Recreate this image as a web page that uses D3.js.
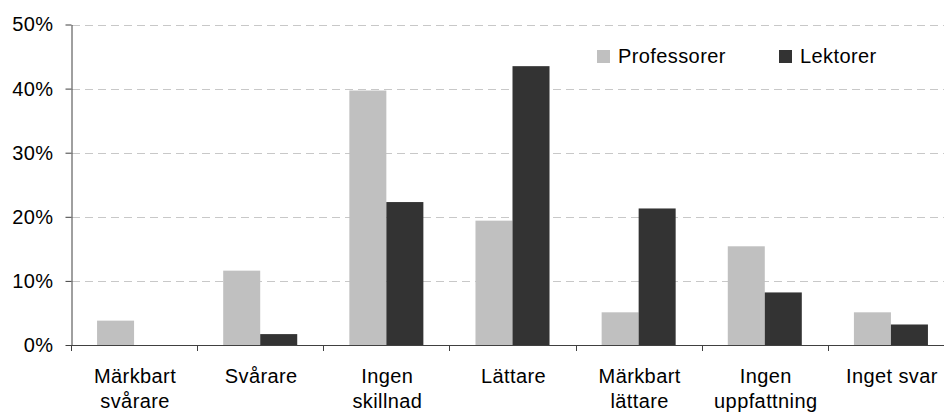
<!DOCTYPE html>
<html>
<head>
<meta charset="utf-8">
<script src="https://cdn.jsdelivr.net/npm/d3@7/dist/d3.min.js"></script>
<style>
  html, body { margin: 0; padding: 0; background: #fff; }
  svg { display: block; font-family: "Liberation Sans", Arial, sans-serif; }
  text { letter-spacing: 0.4px; }
</style>
</head>
<body>
<svg id="chart" width="944" height="416"></svg>
<script>
// Response categories (line breaks mark wrapped labels)
const categories = ["Märkbart\nsvårare", "Svårare", "Ingen\nskillnad", "Lättare", "Märkbart\nlättare", "Ingen\nuppfattning", "Inget svar"];
const seriesNames = ["Professorer", "Lektorer"];
const professorer = [0.038, 0.116, 0.397, 0.194, 0.051, 0.154, 0.051];
const lektorer    = [0.000, 0.017, 0.223, 0.435, 0.213, 0.082, 0.032];
const yTicks = [0, 0.1, 0.2, 0.3, 0.4, 0.5];
const colors = ["#c0c0c0", "#333333"];

const svg = d3.select("#chart");
const plot = { left: 71, right: 954, top: 24.5, bottom: 345 };

const x = d3.scaleBand().domain(categories).range([plot.left, plot.right]).padding(0);
const xs = d3.scaleBand().domain(seriesNames).range([0, x.bandwidth()]).paddingInner(0).paddingOuter(0.704);
const y = d3.scaleLinear().domain([0, 0.5]).range([plot.bottom, plot.top]);

const values = { "Professorer": professorer, "Lektorer": lektorer };

// dashed gridlines
svg.append("g")
  .selectAll("line")
  .data(yTicks.filter(d => d > 0))
  .join("line")
  .attr("x1", plot.left + 1).attr("x2", 944)
  .attr("y1", d => Math.round(y(d)) + 0.5).attr("y2", d => Math.round(y(d)) + 0.5)
  .attr("stroke", "#c8c8c8").attr("stroke-width", 1)
  .attr("stroke-dasharray", "8,5");

// bars
const groups = svg.append("g").selectAll("g")
  .data(categories)
  .join("g")
  .attr("transform", c => `translate(${x(c)},0)`);

groups.selectAll("rect")
  .data((c, i) => seriesNames.map((s, k) => ({ s, k, v: values[s][i] })))
  .join("rect")
  .attr("x", d => xs(d.s))
  .attr("width", xs.bandwidth())
  .attr("y", d => y(d.v))
  .attr("height", d => y(0) - y(d.v))
  .attr("fill", d => colors[d.k]);

// y axis
const yAxis = d3.axisLeft(y)
  .tickValues(yTicks)
  .tickFormat(d3.format(".0%"))
  .tickSize(6)
  .tickSizeOuter(0)
  .tickPadding(12);
const gy = svg.append("g").attr("transform", `translate(${plot.left + 0.5},0)`).call(yAxis);
gy.selectAll("path, line").attr("stroke", "#404040");
gy.selectAll("text").attr("font-size", 20).attr("fill", "#000")
  .attr("font-family", "'Liberation Sans', Arial, sans-serif");

// x axis line and category boundary ticks
const gx = svg.append("g");
gx.append("line")
  .attr("x1", plot.left).attr("x2", 944)
  .attr("y1", Math.round(y(0)) + 0.5).attr("y2", Math.round(y(0)) + 0.5)
  .attr("stroke", "#404040");
gx.selectAll("line.tick")
  .data(categories)
  .join("line")
  .attr("class", "tick")
  .attr("x1", c => Math.round(x(c)) + 0.5).attr("x2", c => Math.round(x(c)) + 0.5)
  .attr("y1", y(0)).attr("y2", y(0) + 6)
  .attr("stroke", "#404040");

// category labels
const labels = gx.selectAll("text.cat")
  .data(categories)
  .join("text")
  .attr("class", "cat")
  .attr("text-anchor", "middle")
  .attr("font-size", 20)
  .attr("fill", "#000");
labels.each(function (c) {
  const t = d3.select(this);
  c.split("\n").forEach((line, i) => {
    t.append("tspan")
      .attr("x", x(c) + x.bandwidth() / 2 + 1)
      .attr("y", 383 + i * 25)
      .text(line);
  });
});

// legend
const legendX = [597, 779];
const legend = svg.append("g").selectAll("g")
  .data(seriesNames)
  .join("g")
  .attr("transform", (d, i) => `translate(${legendX[i]},50)`);
legend.append("rect").attr("width", 13).attr("height", 13).attr("fill", (d, i) => colors[i]);
legend.append("text").attr("x", 21).attr("y", 13).attr("font-size", 20).attr("fill", "#000").text(d => d);
</script>
</body>
</html>
